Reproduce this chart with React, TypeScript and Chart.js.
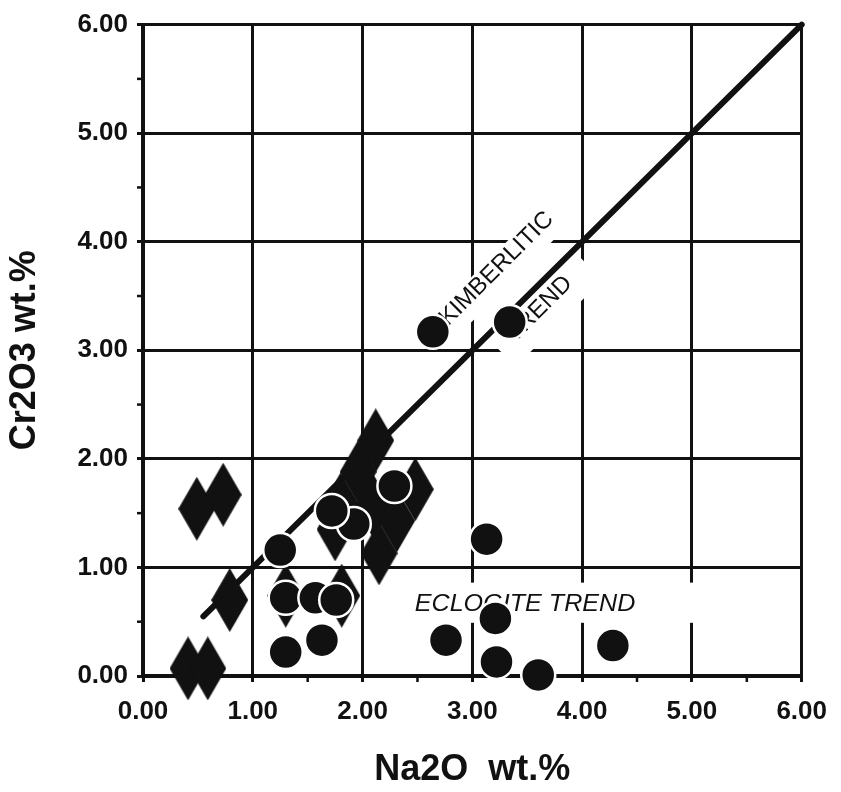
import React, { useEffect, useRef } from "react";
import { Chart, registerables } from "chart.js";

Chart.register(...registerables);

// ---- data ----
const xTickValues = [0, 1, 2, 3, 4, 5, 6];
const yTickValues = [0, 1, 2, 3, 4, 5, 6];
const xTitle = "Na2O  wt.%";
const yTitle = "Cr2O3 wt.%";

const diamondNa2O = [0.41, 0.59, 0.49, 0.73, 0.79, 1.3, 1.75, 1.81, 1.8, 1.96, 2.12, 2.1, 2.48, 2.31, 2.15];
const diamondCr2O3 = [0.07, 0.07, 1.54, 1.67, 0.7, 0.74, 1.35, 0.74, 1.58, 1.88, 2.17, 1.56, 1.72, 1.43, 1.13];

const circleNa2O = [2.64, 3.34, 3.13, 2.29, 1.92, 1.72, 1.25, 1.3, 1.57, 1.76, 1.3, 1.63, 2.76, 3.21, 3.22, 3.6, 4.28];
const circleCr2O3 = [3.17, 3.26, 1.26, 1.75, 1.4, 1.52, 1.16, 0.72, 0.72, 0.7, 0.22, 0.33, 0.33, 0.53, 0.13, 0.01, 0.28];

const trendLineNa2O = [0.55, 6];
const trendLineCr2O3 = [0.55, 6];

const kimberliticWords = ["KIMBERLITIC", "TREND"];
const eclogiteLabel = "ECLOGITE TREND";

const FONT = "'Liberation Sans', Arial, Helvetica, sans-serif";
const INK = "#111111";

function makeDiamond(w: number, h: number, color: string) {
  const c = document.createElement("canvas");
  c.width = w;
  c.height = h;
  const g = c.getContext("2d")!;
  g.fillStyle = color;
  g.beginPath();
  g.moveTo(w / 2, 0);
  g.lineTo(w, h / 2);
  g.lineTo(w / 2, h);
  g.lineTo(0, h / 2);
  g.closePath();
  g.fill();
  return c;
}

function boxedText(
  ctx: CanvasRenderingContext2D,
  text: string,
  cx: number,
  cy: number,
  angle: number,
  font: string,
  box: { l: number; r: number; t: number; b: number },
  scaleX = 1
) {
  ctx.save();
  ctx.translate(cx, cy);
  ctx.rotate(angle);
  ctx.font = font;
  const w = ctx.measureText(text).width * scaleX;
  ctx.fillStyle = "#ffffff";
  ctx.fillRect(-w / 2 - box.l, -box.t, w + box.l + box.r, box.t + box.b);
  ctx.scale(scaleX, 1);
  ctx.fillStyle = INK;
  ctx.textAlign = "center";
  ctx.textBaseline = "middle";
  ctx.fillText(text, 0, 0);
  ctx.restore();
}

const annotationPlugin = {
  id: "annotations",
  beforeDatasetsDraw(chart: any) {
    const { ctx, scales, chartArea } = chart;
    const x = scales.x;
    const y = scales.y;
    ctx.save();

    // minor ticks at half units
    ctx.strokeStyle = INK;
    ctx.lineWidth = 2.5;
    for (let i = 0; i < xTickValues.length - 1; i++) {
      const v = (xTickValues[i] + xTickValues[i + 1]) / 2;
      const px = x.getPixelForValue(v);
      ctx.beginPath();
      ctx.moveTo(px, chartArea.bottom);
      ctx.lineTo(px, chartArea.bottom + 6);
      ctx.stroke();
    }
    for (let i = 0; i < yTickValues.length - 1; i++) {
      const v = (yTickValues[i] + yTickValues[i + 1]) / 2;
      const py = y.getPixelForValue(v);
      ctx.beginPath();
      ctx.moveTo(chartArea.left - 6, py);
      ctx.lineTo(chartArea.left, py);
      ctx.stroke();
    }

    // ECLOGITE TREND with white box
    const bx1 = x.getPixelForValue(2.41);
    const bx2 = x.getPixelForValue(5.08);
    const by1 = y.getPixelForValue(0.86);
    const by2 = y.getPixelForValue(0.49);
    ctx.fillStyle = "#ffffff";
    ctx.fillRect(bx1, by1, bx2 - bx1, by2 - by1);
    ctx.font = `italic 23px ${FONT}`;
    const measured = ctx.measureText(eclogiteLabel).width;
    const targetW = x.getPixelForValue(2.01) - x.getPixelForValue(0);
    const ex = x.getPixelForValue(3.48);
    const ey = y.getPixelForValue(0.655);
    ctx.save();
    ctx.translate(ex, ey);
    ctx.scale(targetW / measured, 1);
    ctx.fillStyle = INK;
    ctx.textAlign = "center";
    ctx.textBaseline = "middle";
    ctx.fillText(eclogiteLabel, 0, 0);
    ctx.restore();

    // KIMBERLITIC / TREND rotated along the trend line
    const ang = -Math.PI / 4;
    boxedText(
      ctx,
      kimberliticWords[0],
      x.getPixelForValue(3.22),
      y.getPixelForValue(3.75),
      ang,
      `24px ${FONT}`,
      { l: 10, r: 8, t: 12, b: 20 }
    );
    boxedText(
      ctx,
      kimberliticWords[1],
      x.getPixelForValue(3.61),
      y.getPixelForValue(3.38),
      ang,
      `24px ${FONT}`,
      { l: 16, r: 24, t: 11, b: 24 }
    );
    ctx.restore();
  },
};

export default function App() {
  const canvasRef = useRef<HTMLCanvasElement | null>(null);

  useEffect(() => {
    document.body.style.margin = "0";
    document.body.style.background = "#ffffff";
    const canvas = canvasRef.current;
    if (!canvas) return;
    const diamond = makeDiamond(37, 64, INK);
    const tickFont = { family: FONT, size: 26, weight: "bold" as const };
    const titleFont = { family: FONT, size: 36, weight: "bold" as const };

    const chart = new Chart(canvas, {
      type: "scatter",
      data: {
        datasets: [
          {
            label: "circles",
            data: circleNa2O.map((v, i) => ({ x: v, y: circleCr2O3[i] })),
            pointStyle: "circle",
            pointRadius: 17,
            pointHoverRadius: 17,
            pointBackgroundColor: INK,
            pointBorderColor: "#ffffff",
            pointBorderWidth: 2.5,
            pointHoverBorderWidth: 2.5,
            clip: false as any,
            order: 0,
          },
          {
            label: "diamonds",
            data: diamondNa2O.map((v, i) => ({ x: v, y: diamondCr2O3[i] })),
            pointStyle: diamond as any,
            pointRadius: 18,
            pointHoverRadius: 18,
            clip: false as any,
            order: 1,
          },
          {
            type: "line" as any,
            label: "trend",
            data: trendLineNa2O.map((v, i) => ({ x: v, y: trendLineCr2O3[i] })),
            borderColor: INK,
            borderWidth: 6,
            borderCapStyle: "round",
            pointRadius: 0,
            pointHoverRadius: 0,
            fill: false,
            showLine: true,
            clip: false as any,
            order: 2,
          } as any,
        ],
      },
      options: {
        responsive: false,
        animation: false,
        devicePixelRatio: 1,
        events: [],
        layout: { padding: { top: 20, right: 34, left: 0, bottom: 0 } },
        plugins: {
          legend: { display: false },
          tooltip: { enabled: false },
        },
        scales: {
          x: {
            type: "linear",
            min: 0,
            max: 6,
            afterBuildTicks: (s: any) => {
              s.ticks = xTickValues.map((v) => ({ value: v }));
            },
            ticks: {
              stepSize: 1,
              callback: (v: any) => Number(v).toFixed(2),
              font: tickFont,
              color: INK,
              padding: 14,
              maxRotation: 0,
            },
            grid: { color: INK, lineWidth: 3, tickLength: 6 },
            border: { color: INK, width: 4 },
            title: {
              display: true,
              text: xTitle,
              font: titleFont,
              color: INK,
              padding: { top: 0, bottom: 0 },
            },
            afterFit: (s: any) => {
              s.height = 116;
            },
          },
          y: {
            type: "linear",
            min: 0,
            max: 6,
            afterBuildTicks: (s: any) => {
              s.ticks = yTickValues.map((v) => ({ value: v }));
            },
            ticks: {
              stepSize: 1,
              callback: (v: any) => Number(v).toFixed(2),
              font: tickFont,
              color: INK,
              padding: 9,
            },
            grid: { color: INK, lineWidth: 3, tickLength: 6 },
            border: { color: INK, width: 4 },
            title: {
              display: true,
              text: yTitle,
              font: titleFont,
              color: INK,
              padding: { top: 3, bottom: 0 },
            },
            afterFit: (s: any) => {
              s.width = 143;
            },
          },
        },
      } as any,
      plugins: [annotationPlugin],
    });

    return () => chart.destroy();
  }, []);

  return (
    <div style={{ width: 841, height: 792, background: "#ffffff" }}>
      <canvas ref={canvasRef} width={841} height={792} style={{ display: "block", width: 841, height: 792 }} />
    </div>
  );
}
